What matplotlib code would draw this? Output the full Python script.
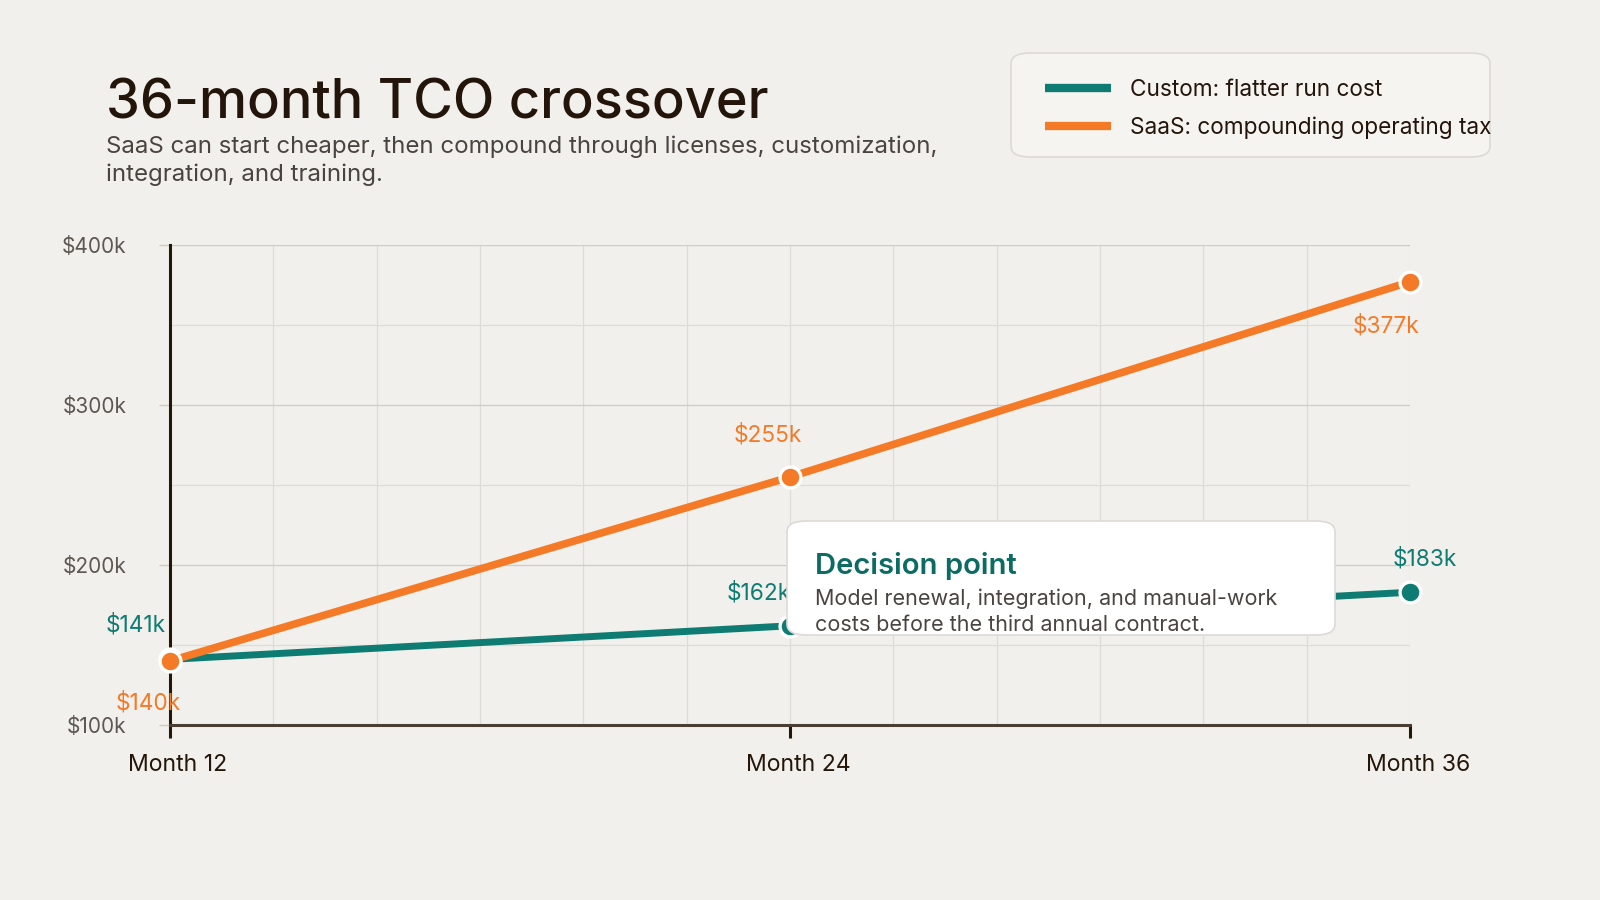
import matplotlib
matplotlib.use("Agg")
import matplotlib.pyplot as plt
from matplotlib.patches import FancyBboxPatch
from matplotlib.lines import Line2D
from matplotlib.transforms import ScaledTranslation

plt.rcParams['font.family'] = ['Inter', 'DejaVu Sans']

# --- data ---
months = [12, 24, 36]
month_labels = ["Month 12", "Month 24", "Month 36"]
custom_cost = [141, 162, 183]   # $k
saas_cost = [140, 255, 377]     # $k
y_ticks = [100, 200, 300, 400]
y_tick_labels = ["$100k", "$200k", "$300k", "$400k"]

# label offsets in pixels (dx, dy), per point
custom_offsets = [(-4, 34, 'right'), (-31, 33, 'center'), (15, 33, 'center')]
saas_offsets = [(-22, -42, 'center'), (-22, 42, 'center'), (-24, -44, 'center')]

BG = "#F2F0EC"
TEAL = "#0E7C72"
ORANGE = "#F57A28"
DARK = "#241608"
GRID = "#DEDCD8"
GRID_MAJ = "#CFCCC8"
MUTED = "#5E5852"

fig = plt.figure(figsize=(16, 9), dpi=100, facecolor=BG)
ax = fig.add_axes([170/1600, 1 - 725/900, 1240/1600, 480/900])
ax.set_facecolor(BG)

ax.set_xlim(12, 36)
ax.set_ylim(100, 400)

# grid
for m in range(12, 37, 2):
    ax.axvline(m, color=GRID, lw=0.9, zorder=0)
for v in range(100, 401, 50):
    ax.axhline(v, color=GRID_MAJ if v % 100 == 0 else GRID, lw=0.9, zorder=0)

ax.plot(months, custom_cost, color=TEAL, lw=5, solid_capstyle='butt', zorder=3,
        marker='o', ms=15, mfc=TEAL, mec='white', mew=2.4, clip_on=False)
ax.plot(months, saas_cost, color=ORANGE, lw=5.5, solid_capstyle='butt', zorder=4,
        marker='o', ms=15, mfc=ORANGE, mec='white', mew=2.4, clip_on=False)

for m, v, (dx, dy, ha) in zip(months, custom_cost, custom_offsets):
    ax.annotate(f"${v}k", (m, v), xytext=(dx*0.72, dy*0.72), textcoords='offset points',
                ha=ha, va='center', color=TEAL, fontsize=16.3, zorder=5)
for m, v, (dx, dy, ha) in zip(months, saas_cost, saas_offsets):
    ax.annotate(f"${v}k", (m, v), xytext=(dx*0.72, dy*0.72), textcoords='offset points',
                ha=ha, va='center', color=ORANGE, fontsize=16.3, zorder=5)

# spines and ticks
for s in ['top', 'right']:
    ax.spines[s].set_visible(False)
ax.spines['left'].set_color(DARK)
ax.spines['left'].set_linewidth(2.2)
ax.spines['bottom'].set_color("#4A3E34")
ax.spines['bottom'].set_linewidth(2.2)
ax.set_xticks(months)
ax.set_xticklabels(month_labels)
ax.set_yticks(y_ticks)
ax.set_yticklabels(y_tick_labels)
ax.tick_params(axis='x', length=9, width=2.2, color=DARK, labelsize=16.6,
               labelcolor=DARK, pad=12)
ax.tick_params(axis='y', length=8, width=1, color=GRID_MAJ, labelsize=15,
               labelcolor=MUTED, pad=23.5)
for lab in ax.get_xticklabels():
    lab.set_transform(lab.get_transform() + ScaledTranslation(8/100, 0, fig.dpi_scale_trans))

# title + subtitle
fig.text(106/1600, 1 - 104/900, "36-month TCO crossover", fontsize=39, fontweight='medium',
         color="#24150B", va='center', ha='left')
fig.text(106/1600, 1 - 161/900,
         "SaaS can start cheaper, then compound through licenses, customization,\nintegration, and training.",
         fontsize=17.3, color="#4A4440", va='center', ha='left', linespacing=1.32)

# legend box
fig.patches.append(FancyBboxPatch((1011/1600, 1 - 157/900), 479/1600, 104/900,
                                  boxstyle="round,pad=0,rounding_size=0.012",
                                  transform=fig.transFigure, fc="#F5F4F0", ec="#DDDAD5", lw=1.2))
for y, c, t in [(88, TEAL, "Custom: flatter run cost"), (125.5, ORANGE, "SaaS: compounding operating tax")]:
    fig.lines.append(Line2D([1045/1600, 1111/1600], [1 - y/900, 1 - y/900], color=c, lw=6,
                            transform=fig.transFigure, solid_capstyle='butt'))
    fig.text(1130/1600, 1 - (y + 2)/900, t, fontsize=16.3, color="#24150B", va='center', ha='left')

# decision point callout
fig.patches.append(FancyBboxPatch((787/1600, 1 - 635/900), 548/1600, 114/900,
                                  boxstyle="round,pad=0,rounding_size=0.012",
                                  transform=fig.transFigure, fc="white", ec="#DDDAD5", lw=1.2,
                                  zorder=6))
fig.text(815/1600, 1 - 566/900, "Decision point", fontsize=21, fontweight='semibold',
         color="#0C6B63", va='center', ha='left', zorder=7)
fig.text(815/1600, 1 - 611.5/900,
         "Model renewal, integration, and manual-work\ncosts before the third annual contract.",
         fontsize=15.5, color="#4A4440", va='center', ha='left', linespacing=1.4, zorder=7)

fig.savefig("out.png", dpi=100, facecolor=BG)
